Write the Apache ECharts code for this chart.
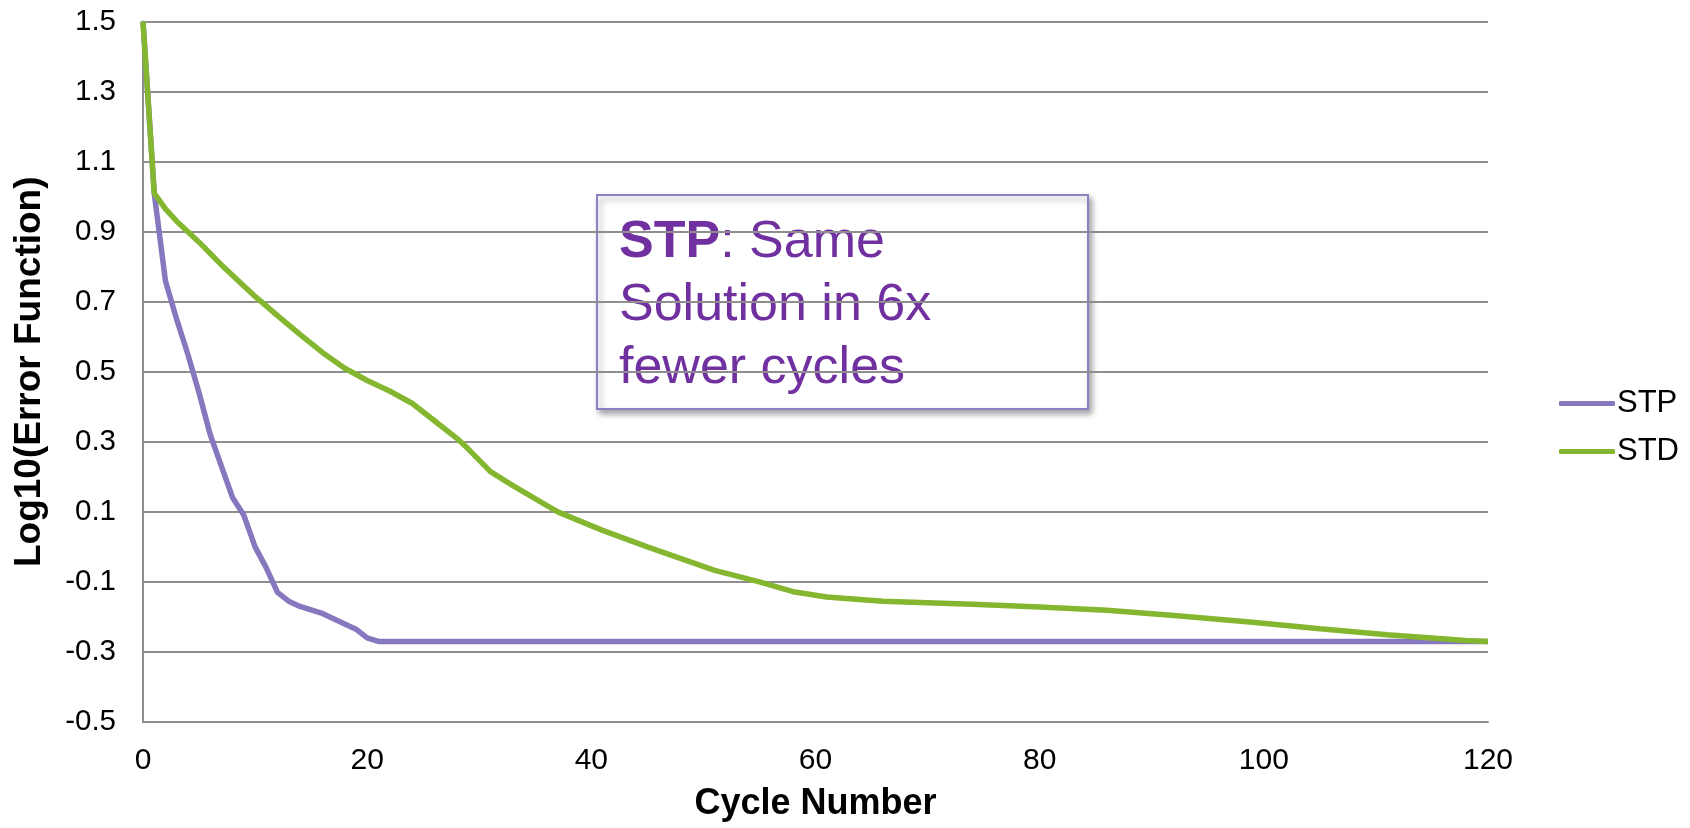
<!DOCTYPE html>
<html>
<head>
<meta charset="utf-8">
<script src="https://cdn.jsdelivr.net/npm/echarts@6/dist/echarts.min.js"></script>
<style>
html,body{margin:0;padding:0;background:#fff;}
#chart{width:1690px;height:828px;}
</style>
</head>
<body>
<div id="chart"></div>
<script>
// ---- data ----
const stpCycles = [0, 1, 2, 3, 4, 5, 6, 7, 8, 9, 10, 11, 12, 13, 14, 15, 16, 17, 18, 19, 20, 21, 120];
const stpValues = [1.5, 1.01, 0.76, 0.65, 0.55, 0.44, 0.32, 0.23, 0.14, 0.09, 0.0, -0.06, -0.13, -0.155, -0.17, -0.18, -0.19, -0.205, -0.22, -0.235, -0.26, -0.27, -0.27];

const stdCycles = [0, 1, 2, 3, 5, 7, 9, 10, 12, 14, 16, 18, 20, 22, 24, 26, 28, 29, 31, 33, 37, 41, 45, 51, 55, 58, 61, 66, 74, 80, 86, 92, 99, 105, 111, 118, 120];
const stdValues = [1.5, 1.01, 0.965, 0.93, 0.87, 0.805, 0.745, 0.715, 0.66, 0.607, 0.555, 0.51, 0.475, 0.445, 0.41, 0.36, 0.31, 0.28, 0.215, 0.175, 0.10, 0.047, 0.0, -0.067, -0.1, -0.128, -0.143, -0.155, -0.164, -0.172, -0.181, -0.196, -0.215, -0.234, -0.251, -0.267, -0.27];

const yTicks = [-0.5, -0.3, -0.1, 0.1, 0.3, 0.5, 0.7, 0.9, 1.1, 1.3, 1.5];
const seriesNames = ['STP', 'STD'];
const xTitle = 'Cycle Number';
const yTitle = 'Log10(Error Function)';

// ---- chart ----
const FONT = '"Liberation Sans", Arial, sans-serif';
const GRID_COLOR = '#8e8e8e';
const STP_COLOR = '#8677bf';
const STD_COLOR = '#84b62f';

const chart = echarts.init(document.getElementById('chart'));

function pairs(xs, ys) { return xs.map((x, i) => [x, ys[i]]); }

const option = {
  animation: false,
  backgroundColor: '#ffffff',
  textStyle: { fontFamily: FONT },
  grid: { left: 143, right: 202, top: 21.5, bottom: 106, containLabel: false },
  xAxis: {
    type: 'value',
    min: 0, max: 120, interval: 20,
    name: xTitle,
    nameLocation: 'middle',
    nameGap: 64,
    nameTextStyle: { fontFamily: FONT, fontSize: 36, fontWeight: 'bold', color: '#000' },
    axisLine: { show: true, onZero: false, lineStyle: { color: GRID_COLOR, width: 2 } },
    axisTick: { show: false },
    axisLabel: { fontFamily: FONT, fontSize: 30, color: '#000', margin: 24 },
    splitLine: { show: false }
  },
  yAxis: {
    type: 'value',
    min: -0.5, max: 1.5, interval: 0.2,
    name: yTitle,
    nameLocation: 'middle',
    nameGap: 95,
    nameTextStyle: { fontFamily: FONT, fontSize: 37, fontWeight: 'bold', color: '#000' },
    axisLine: { show: true, onZero: false, lineStyle: { color: GRID_COLOR, width: 2 } },
    axisTick: { show: false, customValues: yTicks },
    axisLabel: {
      customValues: yTicks,
      fontFamily: FONT, fontSize: 29.5, color: '#000', margin: 27,
      formatter: v => (Math.round(v * 10) / 10).toFixed(1)
    },
    splitLine: { show: true, lineStyle: { color: GRID_COLOR, width: 2 } }
  },
  legend: {
    orient: 'vertical',
    left: 1554,
    top: 383,
    icon: 'roundRect',
    itemWidth: 56,
    itemHeight: 5,
    itemGap: 17,
    textStyle: { fontFamily: FONT, fontSize: 31, color: '#000', padding: [0, 0, 0, -3] },
    data: seriesNames
  },
  series: [
    {
      name: seriesNames[0],
      type: 'line',
      data: pairs(stpCycles, stpValues),
      symbol: 'none',
      lineStyle: { color: STP_COLOR, width: 5.5 },
      itemStyle: { color: STP_COLOR }
    },
    {
      name: seriesNames[1],
      type: 'line',
      data: pairs(stdCycles, stdValues),
      symbol: 'none',
      lineStyle: { color: STD_COLOR, width: 5.5 },
      itemStyle: { color: STD_COLOR }
    }
  ],
  graphic: [
    {
      type: 'group',
      left: 596,
      top: 194,
      children: [
        {
          type: 'rect',
          shape: { x: 0, y: 0, width: 491, height: 214 },
          style: {
            fill: '#ffffff',
            stroke: '#8a80c4',
            lineWidth: 2,
            shadowBlur: 6,
            shadowOffsetX: 3,
            shadowOffsetY: 4,
            shadowColor: 'rgba(0,0,0,0.35)'
          }
        },
        {
          type: 'text',
          x: 22,
          y: 16,
          style: {
            text: '{b|STP}{n|: Same}\n{n|Solution in 6x}\n{n|fewer cycles}',
            fill: '#7030a0',
            rich: {
              b: { fontFamily: FONT, fontSize: 52, fontWeight: 'bold', fill: '#7030a0', lineHeight: 63 },
              n: { fontFamily: FONT, fontSize: 52, fill: '#7030a0', lineHeight: 63 }
            }
          }
        }
      ]
    }
  ]
};

chart.setOption(option);
</script>
</body>
</html>
